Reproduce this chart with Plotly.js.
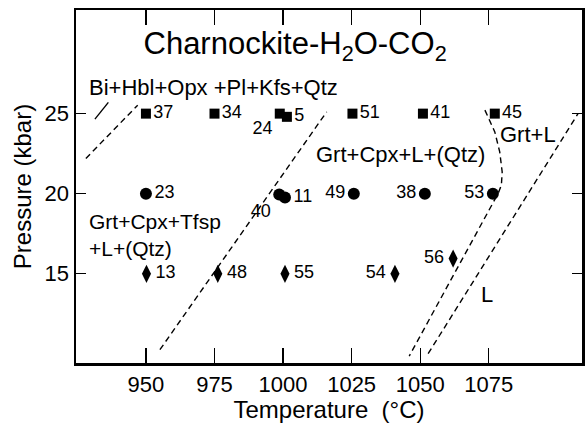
<!DOCTYPE html>
<html>
<head>
<meta charset="utf-8">
<script src="https://cdn.plot.ly/plotly-3.0.1.min.js"></script>
<style>html,body{margin:0;padding:0;background:#fff;}#chart{width:585px;height:423px;}</style>
</head>
<body>
<div id="chart"></div>
<script>
// ---- Data ----
// 25 kbar experiments (squares)
var sqT = [950, 975, 998.8, 1001.4, 1025.3, 1051, 1077.2];
var sqP = [25, 25, 25, 24.8, 25, 25, 25];
var sqLabels = ['37', '34', '24', '5', '51', '41', '45'];
var sqPos = ['middle right', 'middle right', 'bottom left', 'middle right', 'middle right', 'middle right', 'middle right'];

// 20 kbar experiments (circles)
var ciT = [950, 998.6, 1000.7, 1025.8, 1051.7, 1076.5];
var ciP = [20, 19.95, 19.76, 20, 20, 20];
var ciLabels = ['23', '40', '11', '49', '38', '53'];
var ciPos = ['middle right', 'bottom left', 'middle right', 'middle left', 'middle left', 'middle left'];

// 15 kbar experiments (diamonds)
var diT = [950.2, 976.2, 1000.7, 1040.8, 1062];
var diP = [15, 15, 15, 15, 15.95];
var diLabels = ['13', '48', '55', '54', '56'];
var diPos = ['middle right', 'middle right', 'middle right', 'middle left', 'middle left'];

// Phase boundaries (dashed)
var b1T = [928.1, 947.0];            var b1P = [22.2, 25.53];
var b1sT = [931.4, 936.3];           var b1sP = [24.66, 25.7];
var b2T = [955.1, 1015.9];           var b2P = [10.26, 25.11];
var b3T = [1073.6, 1077.2, 1079.0, 1079.9, 1079.6, 1078.4, 1046.0];
var b3P = [25.22, 23.86, 22.61, 21.36, 20.53, 20.01, 9.86];
var b4T = [1052.9, 1107.6];          var b4P = [10.01, 25.01];

var xTicks = [950, 975, 1000, 1025, 1050, 1075];
var yTicks = [15, 20, 25];

var FONT = 'Liberation Sans, Arial, Helvetica, sans-serif';
var dashLine = {color: 'black', width: 1.4, dash: '6px,4px'};

function pts(x, y, labels, pos, symbol, size) {
  return {
    x: x, y: y, text: labels, textposition: pos,
    mode: 'markers+text', type: 'scatter', cliponaxis: false,
    marker: {symbol: symbol, size: size, color: 'black'},
    textfont: {family: FONT, size: 18, color: 'black'},
    hoverinfo: 'skip', showlegend: false
  };
}
function line(x, y, ln) {
  return {x: x, y: y, mode: 'lines', type: 'scatter', line: ln, hoverinfo: 'skip', showlegend: false};
}

var traces = [
  line(b1T, b1P, dashLine),
  line(b1sT, b1sP, {color: 'black', width: 1.4}),
  line(b2T, b2P, dashLine),
  line(b3T, b3P, dashLine),
  line(b4T, b4P, dashLine),
  pts(sqT, sqP, sqLabels, sqPos, 'square', 10),
  pts(ciT, ciP, ciLabels, ciPos, 'circle', 12),
  pts(diT, diP, diLabels, diPos, 'diamond-tall', 13)
];

var annFont = {family: FONT, size: 22, color: 'black'};
var layout = {
  width: 585, height: 423,
  margin: {l: 76, r: 3, t: 10, b: 60},
  paper_bgcolor: 'white', plot_bgcolor: 'white',
  font: {family: FONT, color: 'black'},
  title: {
    text: 'Charnockite-H<sub>2</sub>O-CO<sub>2</sub>',
    font: {family: FONT, size: 31, color: 'black'},
    xref: 'paper', yref: 'paper', x: 0.433, y: 0.905, xanchor: 'center', yanchor: 'middle'
  },
  xaxis: {
    range: [924.5, 1109], tickvals: xTicks, ticktext: xTicks.map(String),
    ticks: 'inside', ticklen: 15, tickwidth: 1.2, tickcolor: 'black',
    showline: true, linewidth: 2.5, linecolor: 'black', mirror: 'ticks',
    showgrid: false, zeroline: false,
    tickfont: {family: FONT, size: 22, color: 'black'},
    title: {text: 'Temperature&nbsp; (°C)', font: {family: FONT, size: 24, color: 'black'}, standoff: 8}
  },
  yaxis: {
    range: [9.43, 31.47], tickvals: yTicks, ticktext: yTicks.map(String),
    ticks: 'inside', ticklen: 10, tickwidth: 1.2, tickcolor: 'black',
    showline: true, linewidth: 2.5, linecolor: 'black', mirror: 'ticks',
    showgrid: false, zeroline: false,
    tickfont: {family: FONT, size: 22, color: 'black'},
    title: {text: 'Pressure (kbar)', font: {family: FONT, size: 24, color: 'black'}, standoff: 6}
  },
  annotations: [
    {x: 928.6, y: 26.66, text: 'Bi+Hbl+Opx +Pl+Kfs+Qtz', xanchor: 'left', yanchor: 'middle', showarrow: false, font: annFont},
    {x: 1042.9, y: 22.45, text: 'Grt+Cpx+L+(Qtz)', xanchor: 'center', yanchor: 'middle', showarrow: false, font: annFont},
    {x: 1089.2, y: 23.7, text: 'Grt+L', xanchor: 'center', yanchor: 'middle', showarrow: false, font: annFont},
    {x: 928.6, y: 17.45, text: 'Grt+Cpx+Tfsp<br>+L+(Qtz)', xanchor: 'left', yanchor: 'middle', align: 'left', showarrow: false,
     font: {family: FONT, size: 21, color: 'black'}},
    {x: 1074.3, y: 13.72, text: 'L', xanchor: 'center', yanchor: 'middle', showarrow: false, font: annFont}
  ]
};

Plotly.newPlot('chart', traces, layout, {staticPlot: true, displayModeBar: false});
</script>
</body>
</html>
